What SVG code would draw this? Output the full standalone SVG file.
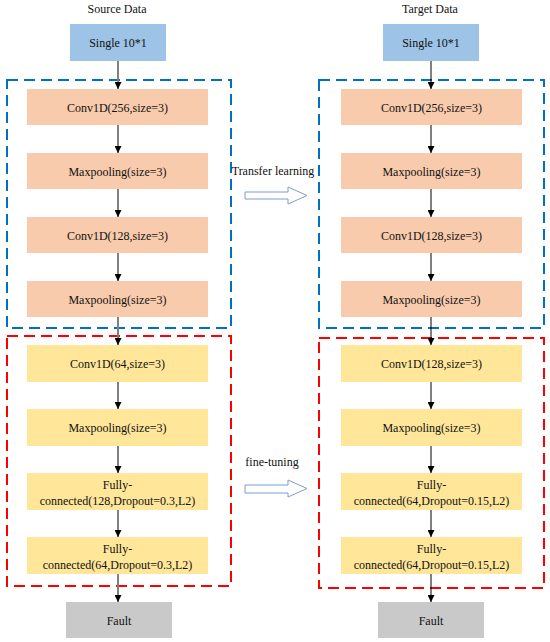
<svg xmlns="http://www.w3.org/2000/svg" width="550" height="642" viewBox="0 0 550 642">
<style>
text{font-family:"Liberation Serif","Times New Roman",serif;font-size:12px;fill:#111;text-anchor:middle}
.in{fill:#9DC3E6}
.or{fill:#F8CBAD}
.ye{fill:#FFE699}
.fa{fill:#C9C9C9}
.bd{fill:none;stroke:#0070C0;stroke-width:2;stroke-dasharray:11 6}
.rd{fill:none;stroke:#FF0000;stroke-width:2;stroke-dasharray:11 6}
.cl{stroke:#808080;stroke-width:2;fill:none;marker-end:url(#ah)}
.cr{stroke:#000;stroke-width:1;fill:none;marker-end:url(#ah)}
.big{fill:#fff;stroke:#7F9CD0;stroke-width:1}
</style>
<defs>
<marker id="ah" viewBox="0 0 10 10" refX="10" refY="5" markerWidth="7" markerHeight="7" markerUnits="userSpaceOnUse" orient="auto">
<path d="M0,0 L10,5 L0,10 z" fill="#000"/>
</marker>
</defs>
<rect width="550" height="642" fill="#fff"/>
<text x="117" y="13">Source Data</text>
<text x="430" y="13">Target  Data</text>
<g id="frames">
<rect class="bd" x="7" y="80" width="224" height="248"/>
<rect class="rd" x="7" y="336" width="224" height="250"/>
<rect class="bd" x="319" y="80" width="225" height="248"/>
<rect class="rd" x="319" y="338" width="225" height="250"/>
</g>
<g id="L_in"><rect class="in" x="70" y="24" width="96" height="37"/><text x="118" y="47">Single 10*1</text></g>
<g id="L_c1"><rect class="or" x="27" y="89" width="181" height="36"/><text x="117.5" y="112">Conv1D(256,size=3)</text></g>
<g id="L_m1"><rect class="or" x="27" y="153" width="181" height="36"/><text x="117.5" y="176">Maxpooling(size=3)</text></g>
<g id="L_c2"><rect class="or" x="27" y="217" width="181" height="36"/><text x="117.5" y="240">Conv1D(128,size=3)</text></g>
<g id="L_m2"><rect class="or" x="27" y="281" width="181" height="36"/><text x="117.5" y="304">Maxpooling(size=3)</text></g>
<g id="L_c3"><rect class="ye" x="27" y="345" width="181" height="37"/><text x="117.5" y="368">Conv1D(64,size=3)</text></g>
<g id="L_m3"><rect class="ye" x="27" y="409" width="181" height="37"/><text x="117.5" y="432">Maxpooling(size=3)</text></g>
<g id="L_f1"><rect class="ye" x="27" y="473" width="181" height="37"/><text x="117.5" y="489">Fully-</text><text x="117.5" y="505">connected(128,Dropout=0.3,L2)</text></g>
<g id="L_f2"><rect class="ye" x="27" y="537" width="181" height="37"/><text x="117.5" y="553">Fully-</text><text x="117.5" y="569">connected(64,Dropout=0.3,L2)</text></g>
<g id="L_out"><rect class="fa" x="66" y="602" width="106" height="36"/><text x="119" y="625">Fault</text></g>
<g id="R_in"><rect class="in" x="383" y="24" width="96" height="37"/><text x="431" y="47">Single 10*1</text></g>
<g id="R_c1"><rect class="or" x="341" y="89" width="181" height="36"/><text x="431.5" y="112">Conv1D(256,size=3)</text></g>
<g id="R_m1"><rect class="or" x="341" y="153" width="181" height="36"/><text x="431.5" y="176">Maxpooling(size=3)</text></g>
<g id="R_c2"><rect class="or" x="341" y="217" width="181" height="36"/><text x="431.5" y="240">Conv1D(128,size=3)</text></g>
<g id="R_m2"><rect class="or" x="341" y="281" width="181" height="36"/><text x="431.5" y="304">Maxpooling(size=3)</text></g>
<g id="R_c3"><rect class="ye" x="341" y="345" width="181" height="37"/><text x="431.5" y="368">Conv1D(128,size=3)</text></g>
<g id="R_m3"><rect class="ye" x="341" y="409" width="181" height="37"/><text x="431.5" y="432">Maxpooling(size=3)</text></g>
<g id="R_f1"><rect class="ye" x="341" y="473" width="181" height="37"/><text x="431.5" y="489">Fully-</text><text x="431.5" y="505">connected(64,Dropout=0.15,L2)</text></g>
<g id="R_f2"><rect class="ye" x="341" y="537" width="181" height="37"/><text x="431.5" y="553">Fully-</text><text x="431.5" y="569">connected(64,Dropout=0.15,L2)</text></g>
<g id="R_out"><rect class="fa" x="378" y="602" width="106" height="36"/><text x="431" y="625">Fault</text></g>
<g id="transfer"><text x="273" y="175">Transfer learning</text><path class="big" d="M245,192 H288 V187 L307,195.5 L288,204 V199 H245 Z"/></g>
<g id="finetune"><text x="272" y="466">fine-tuning</text><path class="big" d="M245,485 H288 V480 L307,488.5 L288,497 V493 H245 Z"/></g>
<g id="connectors">
<line class="cl" x1="118" y1="61" x2="118" y2="89"/>
<line class="cl" x1="118" y1="125" x2="118" y2="153"/>
<line class="cl" x1="118" y1="189" x2="118" y2="217"/>
<line class="cl" x1="118" y1="253" x2="118" y2="281"/>
<line class="cl" x1="118" y1="317" x2="118" y2="345"/>
<line class="cl" x1="118" y1="382" x2="118" y2="409"/>
<line class="cl" x1="118" y1="446" x2="118" y2="473"/>
<line class="cl" x1="118" y1="510" x2="118" y2="537"/>
<line class="cl" x1="118" y1="574" x2="118" y2="602"/>
<line class="cr" x1="431" y1="61" x2="431" y2="89"/>
<line class="cr" x1="431" y1="125" x2="431" y2="153"/>
<line class="cr" x1="431" y1="189" x2="431" y2="217"/>
<line class="cr" x1="431" y1="253" x2="431" y2="281"/>
<line class="cr" x1="431" y1="317" x2="431" y2="345"/>
<line class="cr" x1="431" y1="382" x2="431" y2="409"/>
<line class="cr" x1="431" y1="446" x2="431" y2="473"/>
<line class="cr" x1="431" y1="510" x2="431" y2="537"/>
<line class="cr" x1="431" y1="574" x2="431" y2="602"/>
</g>
</svg>
